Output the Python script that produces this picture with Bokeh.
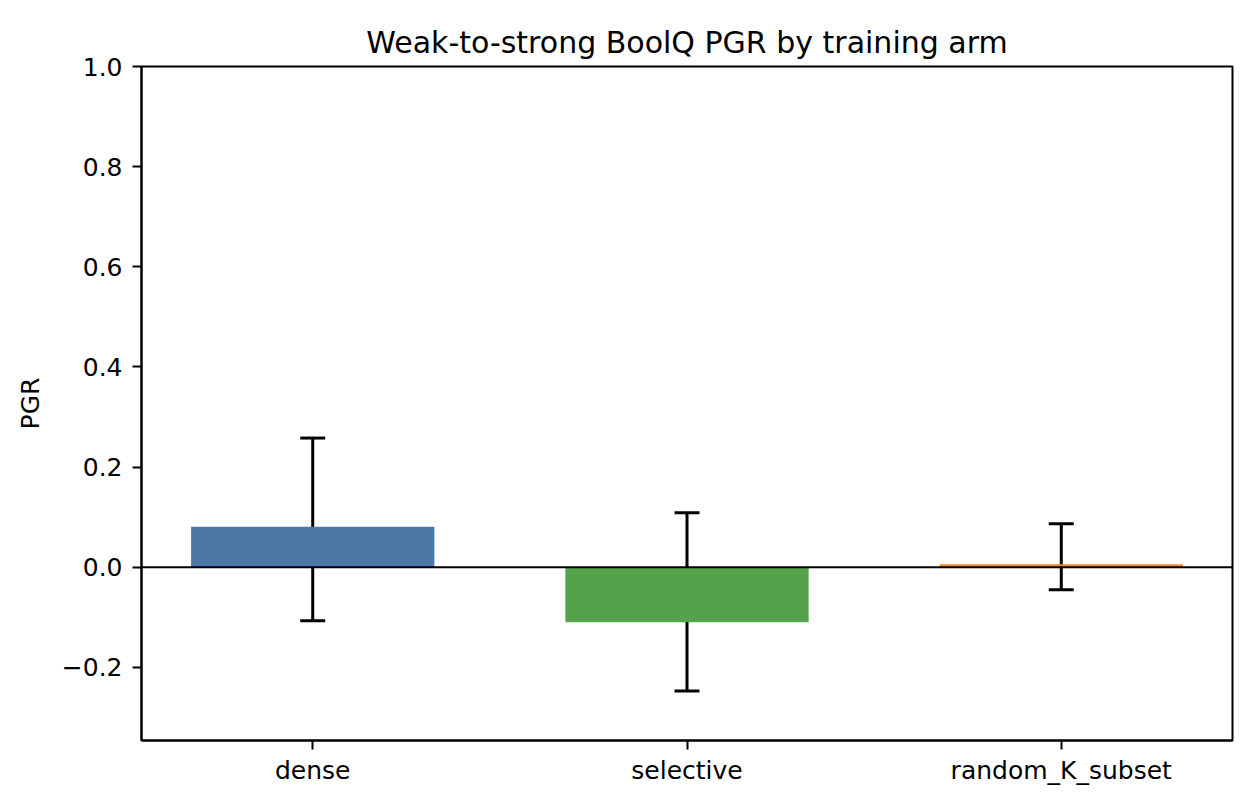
from bokeh.plotting import figure
from bokeh.models import Range1d, FixedTicker, Whisker, TeeHead, Span, ColumnDataSource
from bokeh.embed import file_html
from bokeh.resources import INLINE

# Data
categories = ["dense", "selective", "random_K_subset"]
pgr_mean = [0.081, -0.110, 0.006]
pgr_upper = [0.258, 0.109, 0.087]
pgr_lower = [-0.107, -0.247, -0.045]
bar_colors = ["#4C78A8", "#54A24B", "#EE8A2B"]
y_ticks = [-0.2, 0.0, 0.2, 0.4, 0.6, 0.8, 1.0]
y_tick_labels = ["\u22120.2", "0.0", "0.2", "0.4", "0.6", "0.8", "1.0"]

FONT = "DejaVu Sans"
xs = list(range(len(categories)))

src = ColumnDataSource(dict(x=xs, top=pgr_mean, upper=pgr_upper, lower=pgr_lower,
                            color=bar_colors, cat=categories))

p = figure(width=1260, height=810, output_backend="svg", toolbar_location=None,
           x_range=Range1d(-0.4575, 2.4575), y_range=Range1d(-0.346, 1.0),
           min_border_left=141, min_border_right=28, min_border_top=66, min_border_bottom=70)

p.title.text = "Weak-to-strong BoolQ PGR by training arm"
p.title.align = "center"
p.title.text_font = FONT
p.title.text_font_size = "30px"
p.title.text_font_style = "normal"
p.title.text_color = "black"
p.title.standoff = 14

p.vbar(x="x", top="top", bottom=0, width=0.65, fill_color="color", line_color=None, source=src)

p.add_layout(Span(location=0, dimension="width", line_color="black", line_width=2))

p.add_layout(Whisker(base="x", upper="upper", lower="lower", source=src,
                     line_color="black", line_width=3,
                     upper_head=TeeHead(size=25, line_color="black", line_width=3),
                     lower_head=TeeHead(size=25, line_color="black", line_width=3)))

p.xgrid.visible = False
p.ygrid.visible = False
p.outline_line_color = "black"
p.outline_line_width = 2
p.background_fill_color = "white"
p.border_fill_color = "white"

p.xaxis.ticker = FixedTicker(ticks=xs)
p.xaxis.major_label_overrides = {i: c for i, c in zip(xs, categories)}
p.yaxis.ticker = FixedTicker(ticks=y_ticks)
p.yaxis.major_label_overrides = {t: l for t, l in zip(y_ticks, y_tick_labels)}
p.yaxis.axis_label = "PGR"

for ax in (p.xaxis[0], p.yaxis[0]):
    ax.axis_line_color = "black"
    ax.axis_line_width = 2
    ax.major_tick_line_color = "black"
    ax.major_tick_line_width = 2
    ax.major_tick_out = 9
    ax.major_tick_in = 0
    ax.minor_tick_line_color = None
    ax.major_label_text_font = FONT
    ax.major_label_text_font_size = "25px"
    ax.major_label_text_color = "black"
    ax.axis_label_text_font = FONT
    ax.axis_label_text_font_size = "25px"
    ax.axis_label_text_font_style = "normal"
    ax.axis_label_text_color = "black"

p.yaxis.major_label_standoff = 10
p.xaxis.major_label_standoff = 6
p.yaxis.axis_label_standoff = 14

open("out.html", "w").write(file_html(p, INLINE))
